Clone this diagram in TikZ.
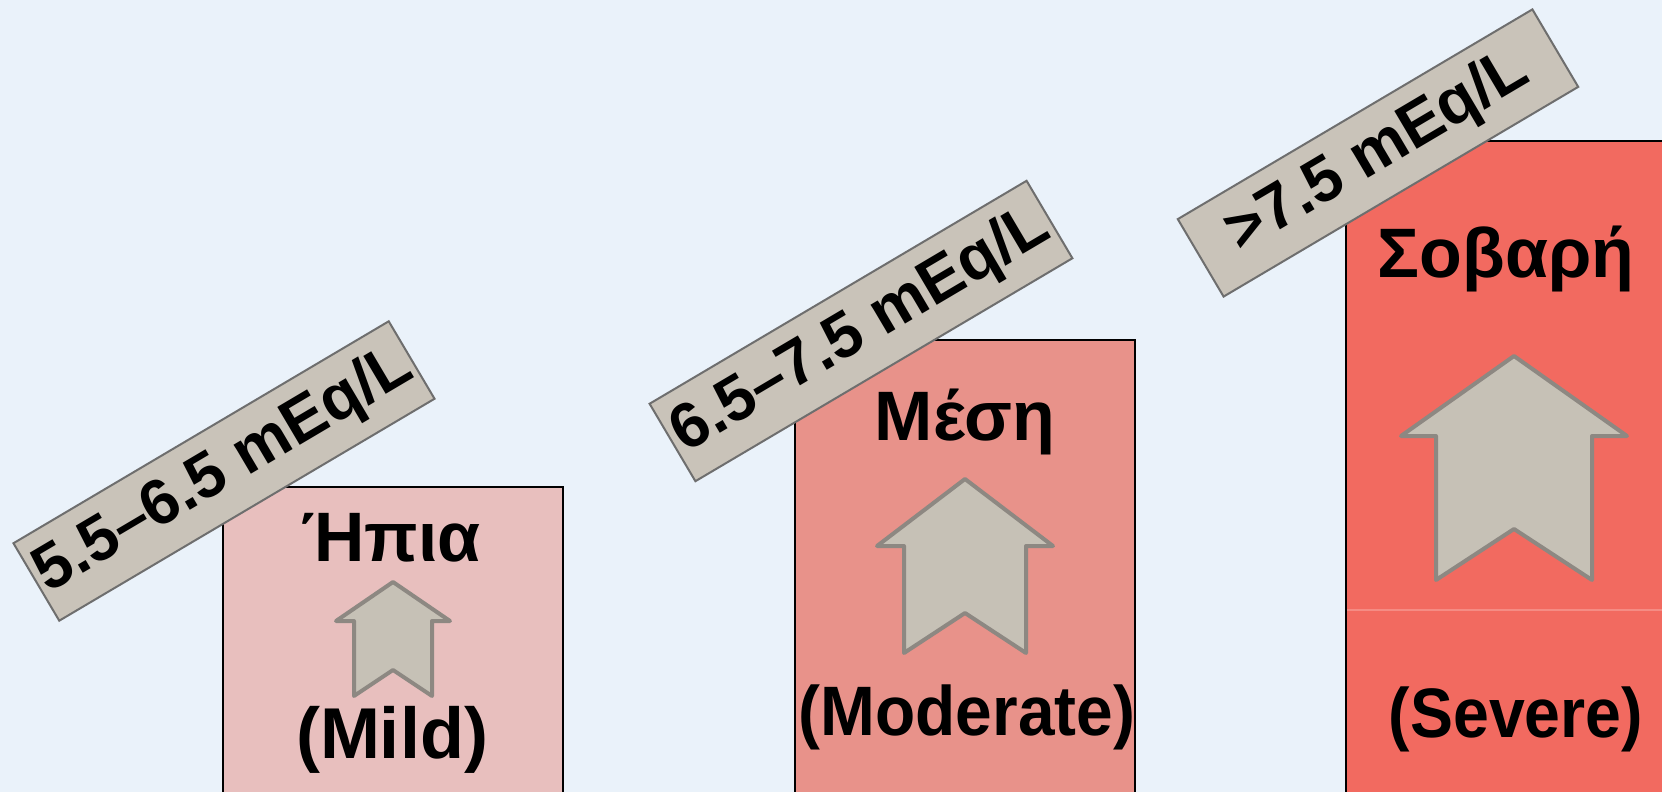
\documentclass[tikz,border=0pt]{standalone}
\usepackage{fontspec}
\setmainfont{Liberation Sans}
\definecolor{bgc}{HTML}{EAF2FA}
\definecolor{mildc}{HTML}{E8BFBE}
\definecolor{modc}{HTML}{E8928A}
\definecolor{sevc}{HTML}{F26A60}
\definecolor{sevline}{HTML}{F58C84}
\definecolor{labfill}{HTML}{C9C3B9}
\definecolor{labdraw}{HTML}{6E6E6E}
\definecolor{arrfill}{HTML}{C6C1B6}
\definecolor{arrdraw}{HTML}{8D8882}
\tikzset{
  levelbox/.style={draw=black, line width=1pt},
  rangelabel/.style={draw=labdraw, fill=labfill, line width=1pt, rotate=30.6,
    minimum height=45pt, inner sep=0pt, font=\bfseries\fontsize{32pt}{36pt}\selectfont},
  uparrow/.style={fill=arrfill, draw=arrdraw, line width=2pt, line join=round},
  greek/.style={anchor=base, font=\bfseries\fontsize{35pt}{40pt}\selectfont},
  english/.style={anchor=base, font=\bfseries\fontsize{35pt}{40pt}\selectfont},
}
\newcommand{\uparr}[7]{% cx, tip, wing, halfwing, halfshaft, bottom, notch
  \draw[uparrow] (#1,#2) -- (#1+#4,#3) -- (#1+#5,#3) -- (#1+#5,#6) -- (#1,#7)
    -- (#1-#5,#6) -- (#1-#5,#3) -- (#1-#4,#3) -- cycle;}
\begin{document}
\begin{tikzpicture}[x=0.5pt,y=-0.5pt]
\useasboundingbox (0,0) rectangle (1662,792);
\fill[bgc] (0,0) rectangle (1662,792);
\begin{scope}
\clip (0,0) rectangle (1662,792);
% boxes
\draw[levelbox, fill=mildc] (223,487) rectangle (563,800);
\draw[levelbox, fill=modc] (795,340) rectangle (1135,800);
\draw[levelbox, fill=sevc] (1346,141) rectangle (1690,800);
\draw[sevline, line width=0.6pt] (1347,610) -- (1690,610);
% arrows
\uparr{393}{582}{621}{57}{39}{696}{670}
\uparr{965}{479}{546}{88}{61}{653}{613}
\uparr{1514}{356}{436}{113}{78}{580}{529}
% texts
\node[greek] (g1) at (391,561) {Ήπια};
\node[english, font=\bfseries\fontsize{36pt}{42pt}\selectfont] (e1) at (392,758) {(Mild)};
\node[greek] (g2) at (965,440) {Μέση};
\node[english, xscale=0.94] (e2) at (967,735) {(Moderate)};
\node[greek] (g3) at (1506,278) {Σοβαρή};
\node[english, xscale=0.92] (e3) at (1516,737) {(Severe)};
% range labels
\node[rangelabel, minimum width=218pt] (r1) at (224,471) {5.5–6.5 mEq/L};
\node[rangelabel, minimum width=219pt] (r2) at (861,331) {6.5–7.5 mEq/L};
\node[rangelabel, minimum width=206pt] (r3) at (1378,153) {>7.5 mEq/L};
\end{scope}
\end{tikzpicture}
\end{document}
